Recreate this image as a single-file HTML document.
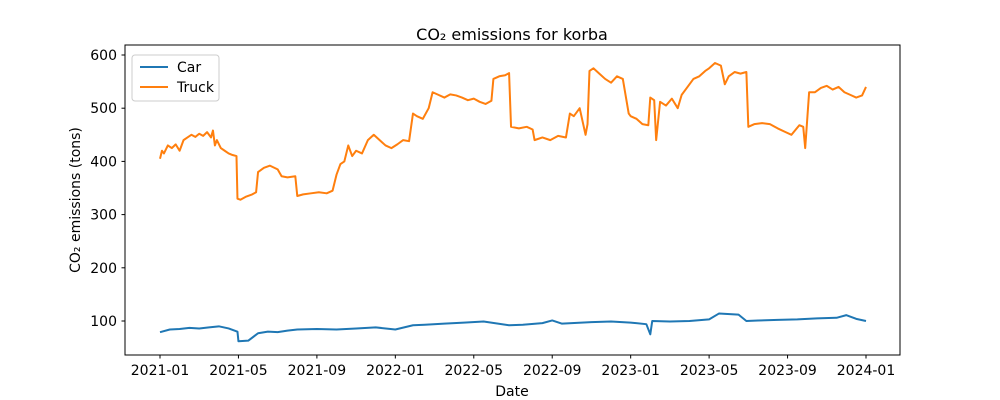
<!DOCTYPE html>
<html><head><meta charset="utf-8"><style>
body{margin:0;background:#fff}
svg{display:block;font-family:"DejaVu Sans","Liberation Sans",sans-serif}
</style></head><body>
<svg id="chart" width="1000" height="400">
<rect x="0" y="0" width="1000" height="400" fill="#fff"/>
<text x="512" y="40" text-anchor="middle" font-size="16">CO₂ emissions for korba</text>
<text x="512" y="396" text-anchor="middle" font-size="14">Date</text>
<text x="80" y="200" text-anchor="middle" font-size="14" transform="rotate(-90 80 200)">CO₂ emissions (tons)</text>
<g id="plot"></g>
<rect x="125" y="45" width="775" height="310" fill="none" stroke="#000" stroke-width="1"/>
<g>
<rect x="132" y="55" width="87" height="46" rx="3" fill="#fff" fill-opacity="0.8" stroke="#ccc"/>
<line x1="140" y1="67" x2="168" y2="67" stroke="#1f77b4" stroke-width="2"/>
<text x="177" y="72" font-size="14">Car</text>
<line x1="140" y1="87" x2="168" y2="87" stroke="#ff7f0e" stroke-width="2"/>
<text x="177" y="92" font-size="14">Truck</text>
</g>
</svg>
<script>
const yTicks=[100,200,300,400,500,600];
const xTickLabels=["2021-01","2021-05","2021-09","2022-01","2022-05","2022-09","2023-01","2023-05","2023-09","2024-01"];
const xTickMonths=[0,4,8,12,16,20,24,28,32,36];
// [months since 2021-01, value]
const truckMonths=[0,0.1,0.2,0.4,0.6,0.8,1.0,1.2,1.4,1.6,1.8,2.0,2.2,2.4,2.6,2.7,2.8,2.9,3.1,3.3,3.5,3.7,3.9,3.95,4.1,4.4,4.7,4.9,5.0,5.3,5.6,6.0,6.2,6.5,6.9,7.0,7.3,7.7,8.1,8.5,8.8,9.0,9.2,9.4,9.6,9.8,10.0,10.3,10.6,10.9,11.2,11.5,11.8,12.1,12.4,12.7,12.9,13.1,13.4,13.7,13.9,14.2,14.5,14.8,15.1,15.4,15.7,16.0,16.3,16.6,16.9,17.0,17.3,17.6,17.8,17.9,18.3,18.7,19.0,19.1,19.5,19.9,20.3,20.7,20.9,21.1,21.4,21.7,21.8,21.9,22.1,22.4,22.7,23.0,23.3,23.6,23.9,24.0,24.3,24.6,24.9,25.0,25.2,25.3,25.5,25.8,26.1,26.4,26.6,26.9,27.2,27.5,27.8,28.0,28.3,28.6,28.8,29.0,29.3,29.6,29.9,30.0,30.3,30.7,31.1,31.5,31.9,32.2,32.6,32.8,32.9,33.1,33.4,33.7,34.0,34.3,34.6,34.9,35.2,35.5,35.8,36.0];
const truckValues=[405,420,415,430,425,432,420,440,445,450,446,452,448,455,445,458,430,440,425,420,415,412,410,330,328,334,338,342,380,388,392,385,372,370,372,335,338,340,342,340,345,375,395,400,430,410,420,415,440,450,440,430,425,432,440,438,490,485,480,500,530,525,520,526,524,520,515,518,512,508,514,555,560,562,566,465,462,465,460,440,445,440,448,445,490,485,500,450,470,570,575,565,555,548,560,555,490,485,480,470,468,520,515,440,512,505,518,500,525,540,555,560,570,575,585,580,545,560,568,565,568,465,470,472,470,462,455,450,468,465,425,530,530,538,542,535,540,530,525,520,524,540];
const carMonths=[0,0.5,1.0,1.5,2.0,2.5,3.0,3.5,3.95,4.0,4.5,5.0,5.5,6.0,6.5,7.0,8.0,9.0,10.0,11.0,12.0,12.9,13.5,14.5,15.5,16.5,17.8,18.5,19.5,20.0,20.5,21.0,21.5,22.0,23.0,24.0,24.8,25.0,25.1,26.0,27.0,28.0,28.5,29.5,29.9,30.5,31.5,32.5,33.5,34.5,35.0,35.5,36.0];
const carValues=[79,84,85,87,86,88,90,86,80,62,63,77,80,79,82,84,85,84,86,88,84,92,93,95,97,99,92,93,96,101,95,96,97,98,99,97,94,75,100,99,100,103,114,112,100,101,102,103,105,106,111,104,100];
const X=m=>160+m*706/36, Y=v=>321-(v-100)*0.532;
const svg=document.getElementById('plot'), NS='http://www.w3.org/2000/svg';
function mk(t,a){const e=document.createElementNS(NS,t);for(const k in a)e.setAttribute(k,a[k]);svg.appendChild(e);return e;}
yTicks.forEach(v=>{
 const l=mk('line',{x1:121.5,x2:125,y1:Y(v),y2:Y(v),stroke:'#000'});
 
 
 const t=mk('text',{x:117,y:Y(v)+5,'text-anchor':'end','font-size':14});t.textContent=v;
 
 
});
xTickMonths.forEach((m,i)=>{
 const l=mk('line',{x1:X(m),x2:X(m),y1:355,y2:358.5,stroke:'#000'});
 
 
 const t=mk('text',{x:X(m),y:375,'text-anchor':'middle','font-size':14});t.textContent=xTickLabels[i];
 
 
});
function line(ms,vs,c,name){
 const p=mk('polyline',{points:ms.map((m,i)=>X(m)+','+Y(vs[i])).join(' '),fill:'none',stroke:c,'stroke-width':2,'stroke-linejoin':'round'});
 
 
}
line(carMonths,carValues,'#1f77b4','car-line');
line(truckMonths,truckValues,'#ff7f0e','truck-line');
</script>
</body></html>
